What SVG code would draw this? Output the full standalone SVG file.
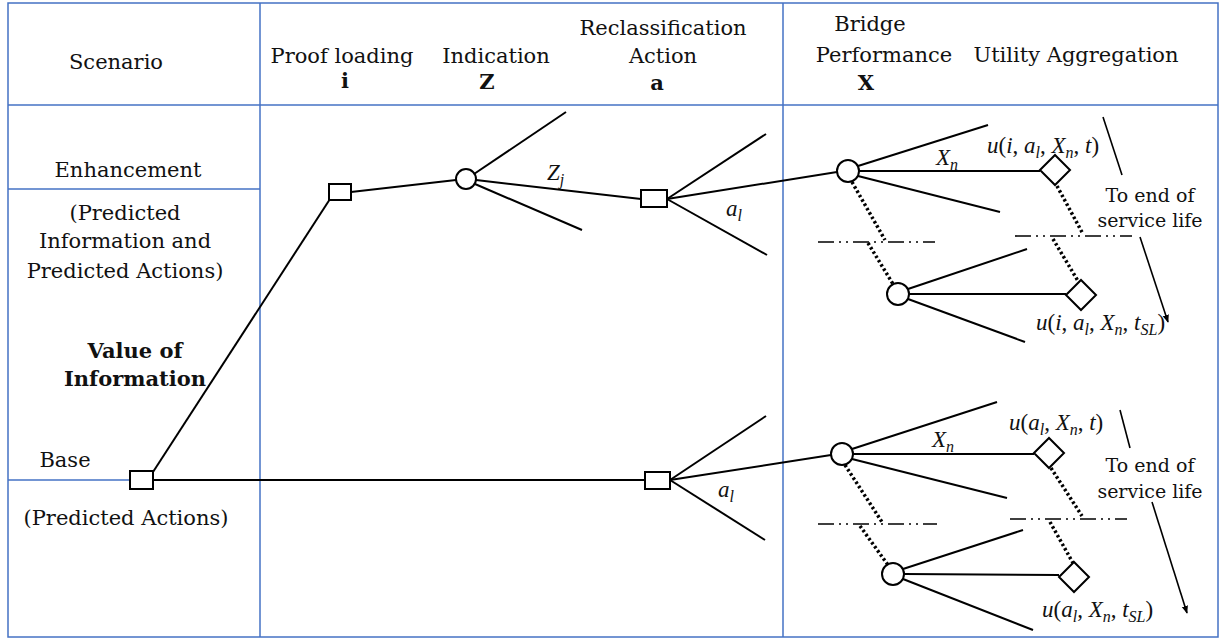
<svg xmlns="http://www.w3.org/2000/svg" width="1221" height="642" viewBox="0 0 1221 642">
<style>
.grid{stroke:#4472C4;stroke-width:1.5;fill:none}
.ln{stroke:#000;stroke-width:2;fill:none}
.thin{stroke:#000;stroke-width:1.6;fill:none}
.dot{stroke:#000;stroke-width:3.5;stroke-dasharray:2.5 2.5;fill:none}
.dd{stroke:#000;stroke-width:1.6;stroke-dasharray:16 5 2 5 2 5;fill:none}
.node{fill:#fff;stroke:#000;stroke-width:2}
.t{font-family:"DejaVu Serif",Georgia,serif;font-size:21px;fill:#111;text-anchor:middle}
.b{font-weight:bold}
.s{font-size:19px}
.m{font-family:"Liberation Serif","DejaVu Serif",serif;font-size:23px;fill:#111}
.i{font-style:italic}
.sub{font-size:16px}
</style>
<defs>
<marker id="arr" viewBox="0 0 10 10" refX="9" refY="5" markerWidth="8" markerHeight="8" orient="auto" markerUnits="userSpaceOnUse">
<path d="M0,1 L10,5 L0,9 z" fill="#000"/>
</marker>
</defs>
<g id="table">
<rect class="grid" x="8" y="3" width="1210" height="634"/>
<line class="grid" x1="8" y1="105" x2="1218" y2="105"/>
<line class="grid" x1="260" y1="3" x2="260" y2="637"/>
<line class="grid" x1="783" y1="3" x2="783" y2="637"/>
<line class="grid" x1="8" y1="189" x2="260" y2="189"/>
<line class="grid" x1="8" y1="480" x2="130" y2="480"/>
</g>
<g id="headers">
<text class="t" x="116" y="69">Scenario</text>
<text class="t" x="342" y="63">Proof loading</text>
<text class="t b" x="345" y="88">i</text>
<text class="t" x="496" y="63">Indication</text>
<text class="t b" x="487" y="89">Z</text>
<text class="t" x="663" y="35">Reclassification</text>
<text class="t" x="663" y="63">Action</text>
<text class="t b" x="657" y="90">a</text>
<text class="t" x="870" y="31">Bridge</text>
<text class="t" x="884" y="62">Performance</text>
<text class="t b" x="866" y="90">X</text>
<text class="t" x="1076" y="62">Utility Aggregation</text>
</g>
<g id="scenario-labels">
<text class="t" x="128" y="177">Enhancement</text>
<text class="t" x="125" y="220">(Predicted</text>
<text class="t" x="125" y="248">Information and</text>
<text class="t" x="125" y="278">Predicted Actions)</text>
<text class="t b" x="135" y="358">Value of</text>
<text class="t b" x="135" y="386">Information</text>
<text class="t" x="65" y="467">Base</text>
<text class="t" x="126" y="525">(Predicted Actions)</text>
</g>
<g id="connectors">
<line class="ln" x1="153" y1="472" x2="330" y2="199"/>
<line class="ln" x1="153" y1="480" x2="645" y2="480"/>
<line class="ln" x1="351" y1="192" x2="456" y2="180"/>
<line class="ln" x1="474" y1="174" x2="566" y2="112"/>
<line class="ln" x1="475" y1="184" x2="582" y2="230"/>
<line class="ln" x1="476" y1="180" x2="641" y2="199"/>
<line class="ln" x1="667" y1="199" x2="766" y2="134"/>
<line class="ln" x1="667" y1="199" x2="837" y2="172"/>
<line class="ln" x1="667" y1="199" x2="767" y2="255"/>
<line class="ln" x1="670" y1="480" x2="766" y2="416"/>
<line class="ln" x1="670" y1="480" x2="831" y2="455"/>
<line class="ln" x1="670" y1="480" x2="765" y2="540"/>
<line class="ln" x1="858" y1="166" x2="988" y2="125"/>
<line class="ln" x1="859" y1="171" x2="1040" y2="171"/>
<line class="ln" x1="858" y1="176" x2="1000" y2="212"/>
<line class="ln" x1="908" y1="289" x2="1027" y2="249"/>
<line class="ln" x1="909" y1="294" x2="1066" y2="294"/>
<line class="ln" x1="908" y1="299" x2="1025" y2="342"/>
<line class="ln" x1="852" y1="449" x2="997" y2="402"/>
<line class="ln" x1="853" y1="454" x2="1034" y2="454"/>
<line class="ln" x1="852" y1="459" x2="1007" y2="498"/>
<line class="ln" x1="903" y1="569" x2="1023" y2="530"/>
<line class="ln" x1="904" y1="574" x2="1059" y2="575"/>
<line class="ln" x1="903" y1="579" x2="1033" y2="630"/>
<line class="dot" x1="852" y1="182" x2="885" y2="240"/>
<line class="dot" x1="868" y1="243" x2="893" y2="284"/>
<line class="dot" x1="1057" y1="186" x2="1083" y2="234"/>
<line class="dot" x1="1053" y1="239" x2="1078" y2="281"/>
<line class="dot" x1="845" y1="465" x2="882" y2="522"/>
<line class="dot" x1="860" y1="526" x2="888" y2="565"/>
<line class="dot" x1="1051" y1="468" x2="1082" y2="516"/>
<line class="dot" x1="1050" y1="522" x2="1073" y2="563"/>
<line class="dd" x1="818" y1="242" x2="935" y2="242"/>
<line class="dd" x1="1015" y1="236" x2="1132" y2="236"/>
<line class="dd" x1="818" y1="524" x2="937" y2="524"/>
<line class="dd" x1="1010" y1="519" x2="1127" y2="519"/>
<line class="thin" x1="1103" y1="117" x2="1122" y2="175"/>
<line class="thin" x1="1140" y1="237" x2="1168" y2="322" marker-end="url(#arr)"/>
<line class="thin" x1="1120" y1="410" x2="1130" y2="448"/>
<line class="thin" x1="1152" y1="502" x2="1187" y2="613" marker-end="url(#arr)"/>
</g>
<g id="base-decision"><rect class="node" x="130" y="471" width="23" height="18"/></g>
<g id="enh-decision"><rect class="node" x="329" y="184" width="22" height="16"/></g>
<g id="indication-chance"><circle class="node" cx="466" cy="179" r="10"/></g>
<g id="reclass-enh"><rect class="node" x="641" y="190" width="26" height="17"/></g>
<g id="reclass-base"><rect class="node" x="645" y="472" width="25" height="17"/></g>
<g id="perf-1"><circle class="node" cx="848" cy="171" r="11"/></g>
<g id="perf-2"><circle class="node" cx="898" cy="294" r="11"/></g>
<g id="perf-3"><circle class="node" cx="842" cy="454" r="11"/></g>
<g id="perf-4"><circle class="node" cx="893" cy="574" r="11"/></g>
<g id="util-1"><polygon class="node" points="1040,170 1055,155 1070,170 1055,185"/></g>
<g id="util-2"><polygon class="node" points="1066,295 1081,280 1096,295 1081,310"/></g>
<g id="util-3"><polygon class="node" points="1034,453 1049,438 1064,453 1049,468"/></g>
<g id="util-4"><polygon class="node" points="1059,577 1074,562 1089,577 1074,592"/></g>
<g id="labels">
<text class="m" x="547" y="180"><tspan class="i">Z</tspan><tspan class="i sub" dy="5">j</tspan></text>
<text class="m" x="726" y="216"><tspan class="i">a</tspan><tspan class="i sub" dy="5">l</tspan></text>
<text class="m" x="718" y="497"><tspan class="i">a</tspan><tspan class="i sub" dy="5">l</tspan></text>
<text class="m" x="936" y="165"><tspan class="i">X</tspan><tspan class="i sub" dy="5">n</tspan></text>
<text class="m" x="932" y="447"><tspan class="i">X</tspan><tspan class="i sub" dy="5">n</tspan></text>
<text class="m" x="987" y="153"><tspan class="i">u</tspan>(<tspan class="i">i</tspan>, <tspan class="i">a</tspan><tspan class="i sub" dy="5">l</tspan><tspan dy="-5">, </tspan><tspan class="i">X</tspan><tspan class="i sub" dy="5">n</tspan><tspan dy="-5">, </tspan><tspan class="i">t</tspan>)</text>
<text class="m" x="1036" y="330"><tspan class="i">u</tspan>(<tspan class="i">i</tspan>, <tspan class="i">a</tspan><tspan class="i sub" dy="5">l</tspan><tspan dy="-5">, </tspan><tspan class="i">X</tspan><tspan class="i sub" dy="5">n</tspan><tspan dy="-5">, </tspan><tspan class="i">t</tspan><tspan class="i sub" dy="5">SL</tspan><tspan dy="-5">)</tspan></text>
<text class="m" x="1009" y="430"><tspan class="i">u</tspan>(<tspan class="i">a</tspan><tspan class="i sub" dy="5">l</tspan><tspan dy="-5">, </tspan><tspan class="i">X</tspan><tspan class="i sub" dy="5">n</tspan><tspan dy="-5">, </tspan><tspan class="i">t</tspan>)</text>
<text class="m" x="1042" y="617"><tspan class="i">u</tspan>(<tspan class="i">a</tspan><tspan class="i sub" dy="5">l</tspan><tspan dy="-5">, </tspan><tspan class="i">X</tspan><tspan class="i sub" dy="5">n</tspan><tspan dy="-5">, </tspan><tspan class="i">t</tspan><tspan class="i sub" dy="5">SL</tspan><tspan dy="-5">)</tspan></text>
<text class="t s" x="1150" y="202">To end of</text>
<text class="t s" x="1150" y="227">service life</text>
<text class="t s" x="1150" y="472">To end of</text>
<text class="t s" x="1150" y="498">service life</text>
</g>
</svg>
